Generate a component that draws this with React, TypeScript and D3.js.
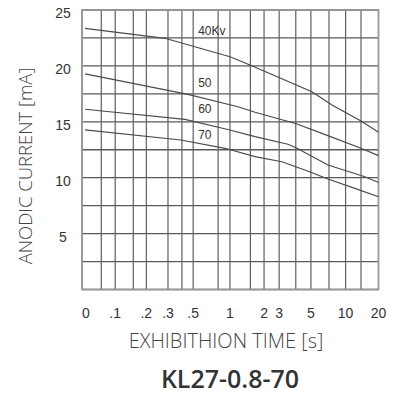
import React from "react";
import * as d3 from "d3";

// ---- data ----
const GRID_TIMES = [0, 0.05, 0.1, 0.15, 0.2, 0.3, 0.4, 0.5, 0.7, 1, 1.5, 2, 3, 4, 5, 7, 10, 15, 20];
const X_TICKS = [0, 0.1, 0.2, 0.3, 0.5, 1, 2, 3, 5, 10, 20];
const X_TICK_LABELS = ["0", ".1", ".2", ".3", ".5", "1", "2", "3", "5", "10", "20"];
const Y_GRID = [0, 2.5, 5, 7.5, 10, 12.5, 15, 17.5, 20, 22.5, 25];
const Y_TICKS = [5, 10, 15, 20, 25];

const T40 = [0.008, 0.286, 1, 1.49, 5.11, 7.54, 15, 20];
const I40 = [23.36, 22.47, 20.82, 20.08, 17.69, 16.5, 15.07, 14.06];
const T50 = [0.008, 0.453, 1.195, 1.67, 3.22, 3.95, 6.22, 15, 20];
const I50 = [19.28, 17.46, 16.35, 15.85, 15.16, 14.87, 13.97, 12.63, 11.97];
const T60 = [0.008, 0.427, 1, 1.67, 3.53, 4.08, 6.89, 16.1, 20];
const I60 = [16.12, 15.22, 14.27, 13.67, 12.99, 12.63, 11.14, 10.09, 9.57];
const T70 = [0.008, 0.393, 0.875, 1.67, 3.16, 4.6, 6.89, 13.0, 20];
const I70 = [14.27, 13.37, 12.63, 11.88, 11.43, 10.69, 9.88, 9.05, 8.3];

const SERIES_LABELS = ["40Kv", "50", "60", "70"];
const LABEL_T = [0.54, 0.54, 0.54, 0.54];
const LABEL_I = [23.15, 18.44, 16.14, 13.82];

// ---- layout ----
const W = 393;
const H = 398;
const LEFT = 82;
const RIGHT = 378.5;
const TOP = 10;
const BOTTOM = 289.5;
// relative positions of the hand-drawn time grid (fraction of plot width)
const GRID_FRACTIONS = [0, 0.065, 0.112, 0.173, 0.217, 0.29, 0.337, 0.375, 0.459, 0.499, 0.568, 0.614, 0.665, 0.721, 0.772, 0.833, 0.889, 0.941, 1];

export default function App() {
  const x = d3
    .scaleLinear()
    .domain(GRID_TIMES)
    .range(GRID_FRACTIONS.map((f) => LEFT + f * (RIGHT - LEFT)));
  const y = d3.scaleLinear().domain([0, 25]).range([BOTTOM, TOP]);

  const line = d3
    .line<[number, number]>()
    .x((d) => x(d[0]))
    .y((d) => y(d[1]));

  const series = [
    [T40, I40],
    [T50, I50],
    [T60, I60],
    [T70, I70],
  ].map(([t, i]) => t.map((tv, k) => [tv, i[k]] as [number, number]));

  const tickFont = "'Liberation Sans', Arial, sans-serif";
  const titleFont = "'Open Sans', 'Noto Sans', sans-serif";

  return (
    <svg width={W} height={H} style={{ position: "absolute", left: 0, top: 0, background: "#fff" }}>
      {/* grid */}
      <g>
        {Y_GRID.map((v) => (
          <line key={"h" + v} x1={LEFT} x2={RIGHT} y1={y(v)} y2={y(v)} stroke="#5a5a5a" strokeWidth={1.3} />
        ))}
        {GRID_TIMES.map((t) => (
          <line key={"v" + t} x1={x(t)} x2={x(t)} y1={TOP} y2={BOTTOM} stroke="#5f5f5f" strokeWidth={1.2} />
        ))}
        <rect x={LEFT} y={TOP} width={RIGHT - LEFT} height={BOTTOM - TOP} fill="none" stroke="#9a9a9a" strokeWidth={1.6} />
      </g>
      {/* curves */}
      {series.map((s, k) => (
        <path key={"s" + k} d={line(s) || ""} fill="none" stroke="#4a4a4a" strokeWidth={1.2} />
      ))}
      {SERIES_LABELS.map((lab, k) => (
        <text
          key={"l" + k}
          x={x(LABEL_T[k])}
          y={y(LABEL_I[k])}
          dominantBaseline="central"
          fontFamily={tickFont}
          fontSize={12}
          fill="#333"
        >
          {lab}
        </text>
      ))}
      {/* y ticks */}
      {Y_TICKS.map((v) => (
        <text
          key={"yt" + v}
          x={LEFT - 19}
          y={y(v) + 3}
          textAnchor="middle"
          dominantBaseline="central"
          fontFamily={tickFont}
          fontSize={14}
          fill="#333"
        >
          {v}
        </text>
      ))}
      {/* x ticks */}
      {X_TICKS.map((t, k) => (
        <text
          key={"xt" + t}
          x={x(t)}
          y={BOTTOM + 23}
          textAnchor={k === 0 ? "start" : "middle"}
          dominantBaseline="central"
          fontFamily={tickFont}
          fontSize={14}
          fill="#333"
        >
          {X_TICK_LABELS[k]}
        </text>
      ))}
      {/* axis titles */}
      <text
        x={226}
        y={340}
        textAnchor="middle"
        dominantBaseline="central"
        fontFamily={titleFont}
        fontSize={20}
        fontWeight={300}
        fill="#444"
      >
        EXHIBITHION TIME [s]
      </text>
      <text
        transform="translate(24,166) rotate(-90)"
        textAnchor="middle"
        dominantBaseline="central"
        fontFamily={titleFont}
        fontSize={18.5}
        fontWeight={300}
        fill="#444"
      >
        ANODIC CURRENT [mA]
      </text>
      <text
        x={230}
        y={378}
        textAnchor="middle"
        dominantBaseline="central"
        fontFamily={titleFont}
        fontSize={25}
        fontWeight={600}
        fill="#333"
      >
        KL27-0.8-70
      </text>
    </svg>
  );
}
